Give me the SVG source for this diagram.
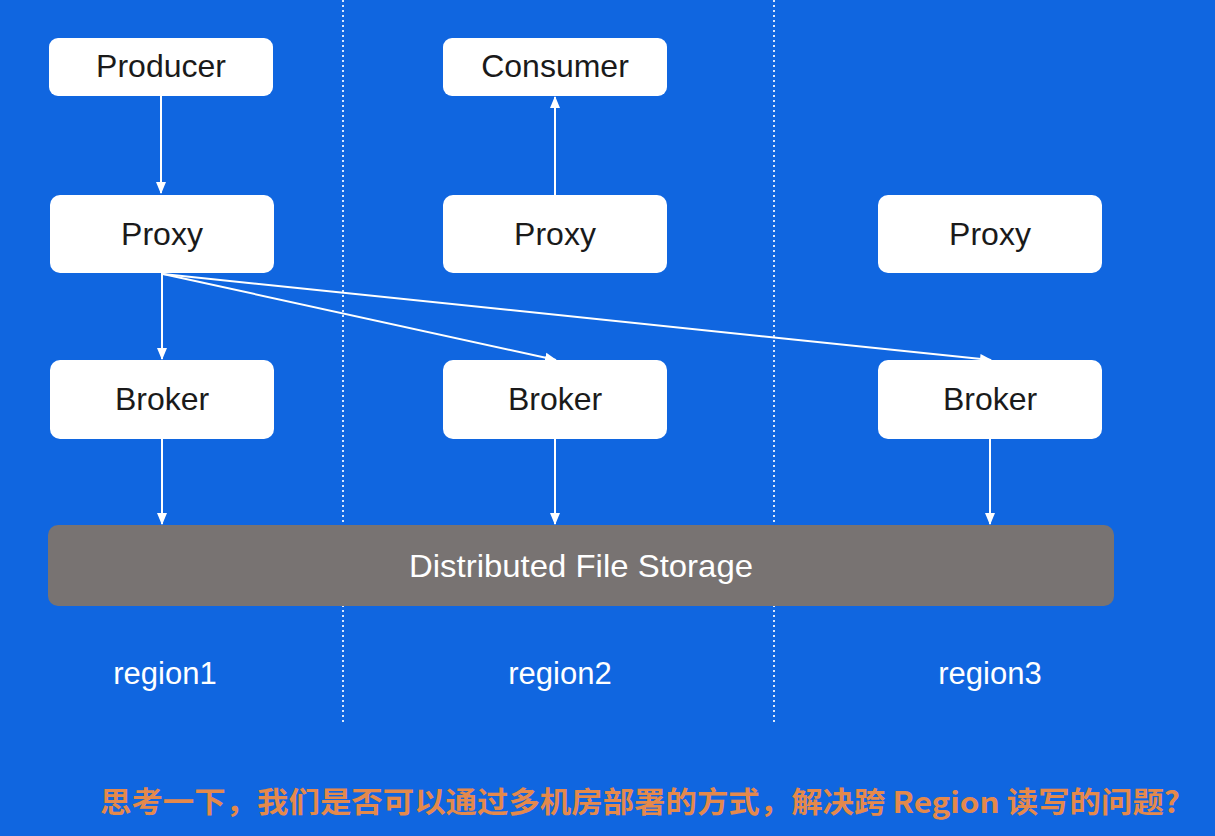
<svg xmlns="http://www.w3.org/2000/svg" width="1215" height="836" viewBox="0 0 1215 836">
<style>
.node rect{fill:#ffffff}
.node text{font-family:"Liberation Sans",Arial,sans-serif;font-size:32px;fill:#1a1a1a;text-anchor:middle}
.conn line{stroke:#ffffff;stroke-width:2;fill:none}
.region{font-family:"Liberation Sans",Arial,sans-serif;font-size:31px;fill:#ffffff;text-anchor:middle}
.divider{stroke:#ffffff;stroke-width:2;stroke-dasharray:2,3;opacity:0.85}
</style>
<defs>
<marker id="arr" viewBox="0 0 12 12" refX="11" refY="6" markerWidth="12" markerHeight="12" markerUnits="userSpaceOnUse" orient="auto">
<path d="M0,1 L12,6 L0,11 Z" fill="#ffffff"/>
</marker>
</defs>
<rect x="0" y="0" width="1215" height="836" fill="#1066e0"/>
<line class="divider" x1="343" y1="0" x2="343" y2="722"/>
<line class="divider" x1="774" y1="0" x2="774" y2="722"/>

<g id="producer" class="node"><rect x="49" y="38" width="224" height="58" rx="9"/><text x="161" y="77">Producer</text></g>
<g id="consumer" class="node"><rect x="443" y="38" width="224" height="58" rx="9"/><text x="555" y="77">Consumer</text></g>
<g id="proxy1" class="node"><rect x="50" y="195" width="224" height="78" rx="10"/><text x="162" y="245">Proxy</text></g>
<g id="proxy2" class="node"><rect x="443" y="195" width="224" height="78" rx="10"/><text x="555" y="245">Proxy</text></g>
<g id="proxy3" class="node"><rect x="878" y="195" width="224" height="78" rx="10"/><text x="990" y="245">Proxy</text></g>
<g id="broker1" class="node"><rect x="50" y="360" width="224" height="79" rx="10"/><text x="162" y="410">Broker</text></g>
<g id="broker2" class="node"><rect x="443" y="360" width="224" height="79" rx="10"/><text x="555" y="410">Broker</text></g>
<g id="broker3" class="node"><rect x="878" y="360" width="224" height="79" rx="10"/><text x="990" y="410">Broker</text></g>
<g id="storage"><rect x="48" y="525" width="1066" height="81" rx="10" fill="#787372"/><text x="581" y="577" font-family="'Liberation Sans',Arial,sans-serif" font-size="32" fill="#ffffff" text-anchor="middle" textLength="344" lengthAdjust="spacingAndGlyphs">Distributed File Storage</text></g>

<g class="conn">
<line x1="161" y1="96" x2="161" y2="193" marker-end="url(#arr)"/>
<line x1="162" y1="273" x2="162" y2="359" marker-end="url(#arr)"/>
<line x1="163" y1="274" x2="556" y2="360" marker-end="url(#arr)"/>
<line x1="163" y1="274" x2="991" y2="360" marker-end="url(#arr)"/>
<line x1="555" y1="195" x2="555" y2="97" marker-end="url(#arr)"/>
<line x1="162" y1="439" x2="162" y2="524" marker-end="url(#arr)"/>
<line x1="555" y1="439" x2="555" y2="524" marker-end="url(#arr)"/>
<line x1="990" y1="439" x2="990" y2="524" marker-end="url(#arr)"/>
</g>

<text class="region" x="165" y="684">region1</text>
<text class="region" x="560" y="684">region2</text>
<text class="region" x="990" y="684">region3</text>

<text x="100" y="813" font-family="'Noto Sans CJK SC',sans-serif" font-size="29" font-weight="bold" fill="#e4894c" textLength="1080" lengthAdjust="spacingAndGlyphs">思考一下，我们是否可以通过多机房部署的方式，解决跨 Region 读写的问题?</text>
</svg>
